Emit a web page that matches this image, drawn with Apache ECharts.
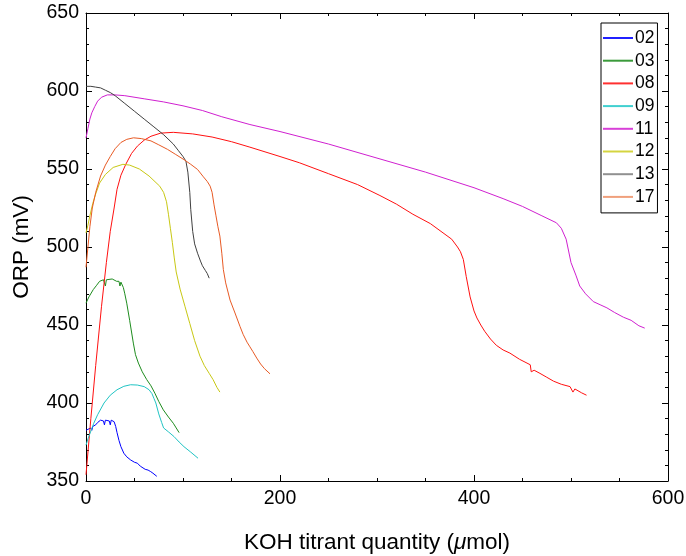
<!DOCTYPE html>
<html>
<head>
<meta charset="utf-8">
<script src="https://cdn.jsdelivr.net/npm/echarts@6/dist/echarts.min.js"></script>
<style>html,body{margin:0;padding:0;background:#fff}#c{width:686px;height:556px}</style>
</head>
<body>
<div id="c"></div>
<script>
// Series names
const seriesNames = ['02','03','08','09','11','12','13','17'];
const seriesColors = ['#0000ff','#1e8c1e','#ff1010','#20c4c4','#d020d0','#c8c814','#404040','#e85a24'];
const legendColors = ['#2020ff','#3a9a3a','#ff3030','#40d0d0','#d840d8','#d4d440','#909090','#f0a07c'];

// Data: [KOH titrant quantity (µmol), ORP (mV)]
const s02 = [[0,382.5],[2,383],[4.8,384],[6,382.5],[7,385],[10,386],[12,387.5],[15,389],[18,388.5],[19,386],[20,389],[22,389],[24,388.5],[25,386],[26,389],[27,389],[29,388],[30.6,385],[32,381],[34,376],[36,372],[39,367.8],[42,365.5],[46,363.5],[50,362],[53,361.4],[56,359.5],[58,359.2],[61,357.5],[64,357],[66.7,356],[69,355],[71,354],[73,353]];
const s03 = [[0,464],[3,468],[7.5,472.7],[11,475.5],[14,478],[18,479],[20,475],[21,479],[23,480],[27,479.5],[29,480],[31.6,478],[34,478],[35,475],[36,477.5],[38.5,474],[40,470],[42,464],[45,453],[48.8,438.4],[51,431],[54,425.6],[58,420],[62.6,415],[67,411],[71,406.3],[75,401],[79.7,395.6],[85,391],[90,387],[93,384],[96,381]];
const s08 = [[0,354],[5,390],[10,424],[16,462],[21,490],[25,510],[29,525],[32,537],[36,546],[41,553],[47,560],[53,564.7],[60,568.5],[67,571],[77,573],[90,573.5],[110,572.5],[130,570.5],[150,567.5],[169,564],[200,558],[220,554],[250,547],[280,540],[303,533],[320,527.5],[337,521],[355,515],[377,505],[383,500],[386,497],[389,492],[392,481],[396,468],[400,459],[403,454.5],[407,450],[411,446],[417,441],[423,437],[430,434],[437,432],[447,428],[458,424.5],[459,420],[462,421],[468,419],[475,416.5],[482,414],[490,412],[499,410.5],[502,407],[504,409],[506,408.5],[511,406.5],[516,405]];
const s09 = [[0,373],[2,377],[5,382],[8,387],[12,392.5],[18.6,400],[25,405],[32,408.5],[39,410.7],[46,411.7],[53,411.5],[60,410.5],[65,408.5],[68,406],[70,403],[72,400],[75,393],[78,387.5],[80,384],[85,381.5],[90.7,378.5],[96,375],[101,372],[108,368.5],[115.5,364.6]];
const s11 = [[0,570],[2,576],[4,582],[6,586],[9,590],[12,593.5],[16,596],[22,597.5],[30,597.5],[40,597],[60,595],[80,593],[100,590.5],[120,587.5],[140,583.5],[169,578.5],[200,574],[250,566],[300,557],[350,548],[400,538],[430,531],[450,526],[470,520],[485,515.5],[490,512],[495,505],[500,490],[505,482],[509,475],[515,470],[523,465],[530,463],[537,461],[545,458],[554,455],[562,453],[570,449.5],[576,448]];
const s12 = [[0,509],[2,514],[4,520],[7,528],[10,534],[14,541],[20,546.5],[28,551],[38,553],[45,552.5],[55,550],[65,545.5],[76,539],[80,535],[83,529],[85,521],[87,512],[89,503],[91,493],[93,484],[97,473],[102,462],[107,451],[112,440],[117.5,430],[122,424],[127,419],[131,415],[135,410],[138,407]];
const s13 = [[0,603],[5,603],[10,602.5],[15,602],[20,600.5],[25,599],[30,597],[40,592],[50,587],[60,582],[70,577],[80,572],[90,566],[95,562],[100,558],[103,555],[105,548],[107,535],[108,524],[110,510],[112,502],[115,496],[118,491],[120,488],[123,485],[125,483],[127,480]];
const s17 = [[0,487],[2,500],[4,513],[6.5,525],[10,535],[15,545.5],[20,552.5],[25,558],[30,563],[36,567],[42,569],[49,570],[57,569.5],[67,568],[75,565.5],[84,562.6],[92,559.5],[101,556],[108,553],[115,549.7],[121,545],[125,542],[128,539],[130,535],[132,527],[134,520],[136,513],[138,507],[140,496],[141.6,485.5],[144,477],[148.5,466],[153.6,457.7],[158.8,449],[162,444],[166,439],[169,436],[172,433],[176,428.8],[180,425],[184,422],[189.7,418.7]];

const seriesData = [s02,s03,s08,s09,s11,s12,s13,s17];

const xMin = 0, xMax = 600, xInterval = 200;
const yMin = 350, yMax = 650, yInterval = 50;

const FONT = '"Liberation Sans", Arial, Helvetica, sans-serif';

const chart = echarts.init(document.getElementById('c'), null, {renderer:'canvas'});

const axisCommon = {
  axisLine: {show:true, onZero:false, lineStyle:{color:'#000', width:1}},
  axisTick: {show:true, inside:true, length:6, lineStyle:{color:'#000', width:1}},
  minorTick: {show:true, length:3, lineStyle:{color:'#000', width:1}},
  splitLine: {show:false},
  minorSplitLine: {show:false}
};

const option = {
  animation: false,
  backgroundColor: '#fff',
  textStyle: {fontFamily: FONT},
  grid: {left:86, right:18, top:13, bottom:75, containLabel:false, outerBoundsMode:'none'},
  legend: {
    show: true,
    orient: 'vertical',
    left: 601, top: 23,
    backgroundColor: '#fff',
    borderColor: '#000', borderWidth: 1, borderRadius: 0,
    padding: [6, 3, 7, 2],
    itemWidth: 30, itemHeight: 2, itemGap: 4.7,
    icon: 'rect',
    textStyle: {fontFamily: FONT, fontSize: 17.5, color:'#000', lineHeight: 18, padding:[0,0,0,-3]},
    data: seriesNames.map((n, i) => ({name: n, itemStyle: {color: legendColors[i]}}))
  },
  xAxis: [
    Object.assign({}, axisCommon, {
      type:'value', position:'bottom', min:xMin, max:xMax, interval:xInterval,
      minorTick: Object.assign({}, axisCommon.minorTick, {splitNumber:4}),
      axisLabel: {show:true, color:'#000', fontSize:19.5, fontFamily:FONT, margin:8},
      name: '{n|KOH titrant quantity (}{i|μ}{n|mol)}',
      nameLocation: 'middle', nameGap: 50,
      nameTextStyle: {rich:{n:{fontSize:22.5, fontFamily:FONT, color:'#000'}, i:{fontSize:22.5, fontFamily:FONT, fontStyle:'italic', color:'#000'}}}
    }),
    Object.assign({}, axisCommon, {
      type:'value', position:'top', min:xMin, max:xMax, interval:xInterval,
      minorTick: Object.assign({}, axisCommon.minorTick, {splitNumber:4}),
      axisLabel: {show:false}
    })
  ],
  yAxis: [
    Object.assign({}, axisCommon, {
      type:'value', position:'left', min:yMin, max:yMax, interval:yInterval,
      minorTick: Object.assign({}, axisCommon.minorTick, {splitNumber:5}),
      axisLabel: {show:true, color:'#000', fontSize:19.5, fontFamily:FONT, margin:7},
      name: 'ORP (mV)', nameLocation:'middle', nameGap: 53, nameRotate: 90,
      nameTextStyle: {fontSize:22.5, fontFamily:FONT, color:'#000'}
    }),
    Object.assign({}, axisCommon, {
      type:'value', position:'right', min:yMin, max:yMax, interval:yInterval,
      minorTick: Object.assign({}, axisCommon.minorTick, {splitNumber:5}),
      axisLabel: {show:false}
    })
  ],
  series: seriesNames.map((n, i) => ({
    name: n,
    type: 'line',
    xAxisIndex: 0, yAxisIndex: 0,
    data: seriesData[i],
    showSymbol: false,
    symbol: 'none',
    smooth: false,
    lineStyle: {width: 1, color: seriesColors[i]},
    itemStyle: {color: seriesColors[i]},
    emphasis: {disabled: true}
  }))
};

chart.setOption(option);
</script>
</body>
</html>
